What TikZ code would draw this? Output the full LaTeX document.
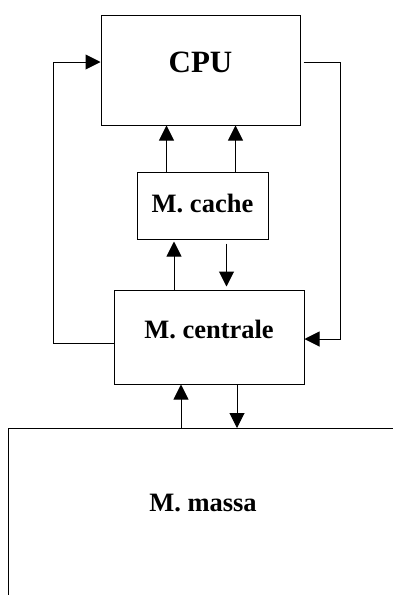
\documentclass[tikz,border=0pt]{standalone}
\usepackage{fontspec}
\setmainfont{Liberation Serif}
\usetikzlibrary{arrows.meta,positioning}
\tikzset{
  blok/.style={draw, line width=1pt, inner sep=0pt, font=\fontsize{26.5}{30}\selectfont\bfseries},
  arr/.style={-{Triangle[length=15pt,width=15pt]}, line width=1pt},
}
\begin{document}
\begin{tikzpicture}[x=1pt,y=-1pt]
\useasboundingbox (0,0) rectangle (393,595);
\node[blok, minimum width=199pt, minimum height=110pt, text depth=16pt, font=\fontsize{31}{36}\selectfont\bfseries] (cpu) at (200.5,70) {CPU};
\node[blok, minimum width=131pt, minimum height=67pt, text depth=5pt] (cache) at (202.5,205.5) {M. cache};
\node[blok, minimum width=190pt, minimum height=94pt, text depth=16pt] (cent) at (209,337) {M. centrale};
\node[font=\fontsize{26.5}{30}\selectfont\bfseries] (massa) at (203,503) {M. massa};
% memoria di massa: solo bordo superiore e sinistro
\coordinate (mtl) at (8,428);
\draw[line width=1pt] (393,428) -- (mtl) -- (8,595);
% collegamenti
\draw[arr] ([xshift=-36pt]cache.north) -- ([xshift=-36pt]cache.north |- cpu.south);
\draw[arr] ([xshift=33pt]cache.north) -- ([xshift=33pt]cache.north |- cpu.south);
\draw[arr] ([xshift=-35pt]cent.north) -- ([xshift=-35pt,yshift=-2pt]cent.north |- cache.south);
\draw[arr] ([xshift=24pt,yshift=-4pt]cache.south) -- ([xshift=24pt,yshift=3pt]cache.south |- cent.north);
\draw[arr] ([xshift=-28pt]cent.south |- mtl) -- ([xshift=-28pt]cent.south);
\draw[arr] ([xshift=28pt]cent.south) -- ([xshift=28pt]cent.south |- mtl);
\draw[arr] ([yshift=-6pt]cent.west) -- ++(-60,0) |- ([yshift=8pt]cpu.west);
\draw[arr] ([xshift=3pt,yshift=8pt]cpu.east) -- ++(37,0) |- ([yshift=-2pt]cent.east);
\end{tikzpicture}
\end{document}
